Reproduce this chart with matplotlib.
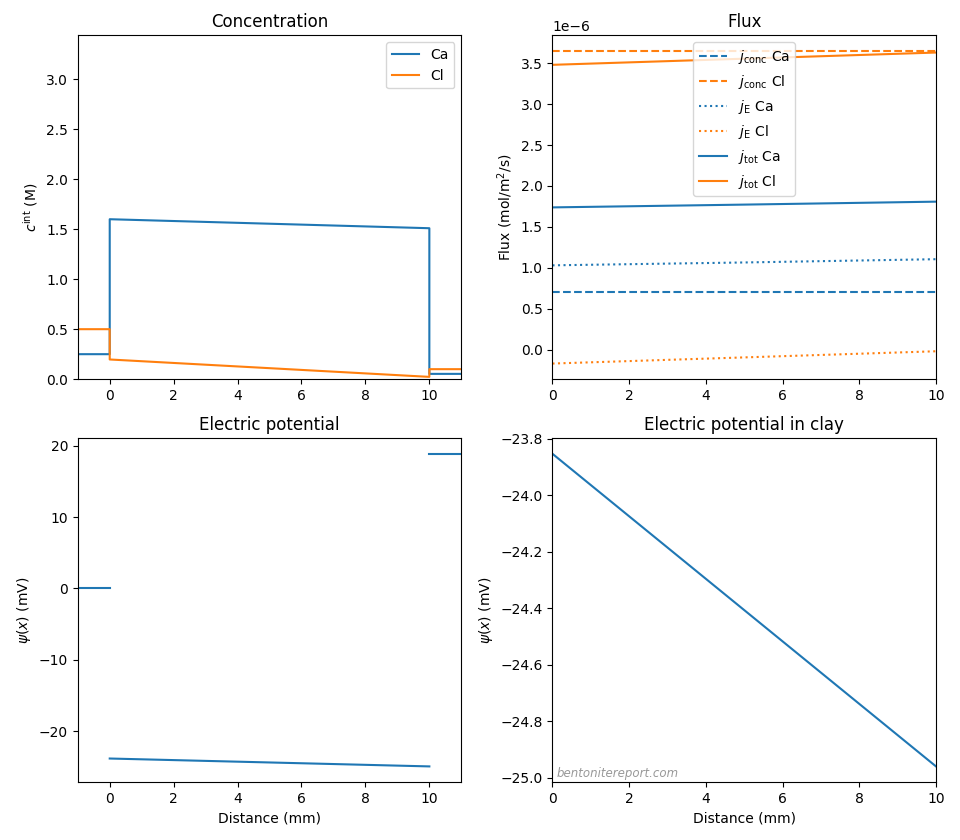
import matplotlib
matplotlib.use("Agg")
import matplotlib.pyplot as plt
import numpy as np

# Concentration profile (mm, M)
x_conc = [-1, 0, 0, 10, 10, 11]
ca_conc = [0.25, 0.25, 1.60, 1.51, 0.053, 0.053]
cl_conc = [0.50, 0.50, 0.197, 0.023, 0.10, 0.10]

# Flux in clay (mol/m2/s, units of 1e-6)
x_flux = [0, 5, 10]
jconc_ca = [0.70, 0.70, 0.70]
jconc_cl = [3.65, 3.65, 3.65]
jE_ca = [1.03, 1.065, 1.105]
jE_cl = [-0.17, -0.095, -0.02]
jtot_ca = [1.738, 1.772, 1.808]
jtot_cl = [3.48, 3.555, 3.63]

# Electric potential (mV)
x_left = [-1, 0]
psi_left = [0.0, 0.0]
x_clay = [0, 5, 10]
psi_clay = [-23.853, -24.406, -24.959]
x_right = [10, 11]
psi_right = [18.87, 18.87]

blue = "#1f77b4"
orange = "#ff7f0e"

fig, axes = plt.subplots(2, 2, figsize=(9.6, 8.4), dpi=100)
fig.subplots_adjust(left=0.081, right=0.975, top=0.958, bottom=0.069,
                    wspace=0.2376, hspace=0.1715)

ax = axes[0, 0]
ax.plot(x_conc, ca_conc, color=blue, label="Ca")
ax.plot(x_conc, cl_conc, color=orange, label="Cl")
ax.set_xlim(-1, 11)
ax.set_ylim(0, 3.44)
ax.set_title("Concentration")
ax.set_ylabel(r"$c^{\rm int}$ (M)")
ax.legend(loc="upper right")

ax = axes[0, 1]
s = 1e-6
ax.plot(x_flux, np.array(jconc_ca) * s, "--", color=blue, label=r"$j_{\rm conc}$ Ca")
ax.plot(x_flux, np.array(jconc_cl) * s, "--", color=orange, label=r"$j_{\rm conc}$ Cl")
ax.plot(x_flux, np.array(jE_ca) * s, ":", color=blue, label=r"$j_{\rm E}$ Ca")
ax.plot(x_flux, np.array(jE_cl) * s, ":", color=orange, label=r"$j_{\rm E}$ Cl")
ax.plot(x_flux, np.array(jtot_ca) * s, "-", color=blue, label=r"$j_{\rm tot}$ Ca")
ax.plot(x_flux, np.array(jtot_cl) * s, "-", color=orange, label=r"$j_{\rm tot}$ Cl")
ax.set_xlim(0, 10)
ax.set_title("Flux")
ax.set_ylabel(r"Flux (mol/m$^2$/s)")
ax.legend(loc="upper center")

ax = axes[1, 0]
ax.plot(x_left, psi_left, color=blue)
ax.plot(x_clay, psi_clay, color=blue)
ax.plot(x_right, psi_right, color=blue)
ax.set_xlim(-1, 11)
ax.set_title("Electric potential")
ax.set_ylabel(r"$\psi(x)$ (mV)")
ax.set_xlabel("Distance (mm)")

ax = axes[1, 1]
ax.plot(x_clay, psi_clay, color=blue)
ax.set_xlim(0, 10)
ax.set_title("Electric potential in clay")
ax.set_ylabel(r"$\psi(x)$ (mV)")
ax.set_xlabel("Distance (mm)")
ax.text(0.01, 0.006, "bentonitereport.com", transform=ax.transAxes,
        fontsize=8.5, style="italic", color="#999999", ha="left", va="bottom")

fig.savefig("out.png", dpi=100)
